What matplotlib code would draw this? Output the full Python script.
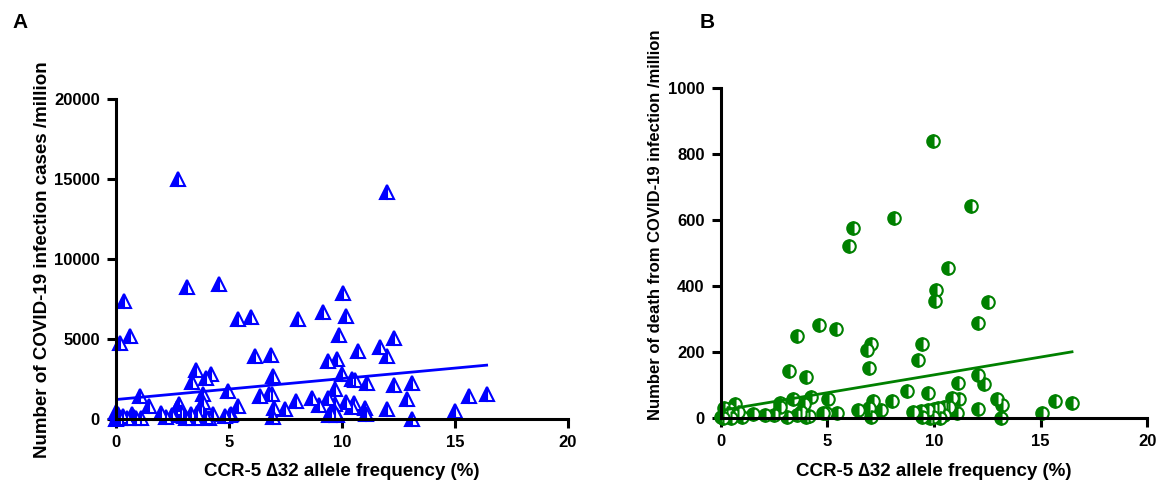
import numpy as np
import matplotlib
matplotlib.use('Agg')
import matplotlib.pyplot as plt

plt.rcParams['font.family'] = ['Liberation Sans', 'DejaVu Sans']
plt.rcParams['font.weight'] = 'bold'

# panel A: CCR-5 delta32 frequency vs infection cases / million
freq_a = [2.76, 11.99, 0.35, 3.16, 4.57, 0.62, 0.16, 5.38, 5.97, 8.07, 9.18, 10.04, 10.19,
          9.86, 10.7, 6.16, 6.87, 9.37, 9.79, 9.99, 10.45, 10.58, 6.96, 3.56, 3.38, 3.98,
          4.2, 3.87, 3.87, 3.78, 4.97, 1.06, 1.46, 6.39, 6.78, 6.9, 9.68, 7.97, 8.66, 8.97,
          9.37, 9.67, 10.16, 10.55, 10.43, 7.0, 7.48, 6.93, 5.38, 5.11, 4.82, 9.42, 9.77,
          12.28, 11.66, 11.99, 11.1, 12.3, 13.08, 12.87, 11.0, 11.07, 11.99, 13.1, 14.99,
          15.6, 16.4,
          0.0, 0.05, 0.1, 0.0, 0.15, 0.2, 0.3, 0.5, 0.7, 0.8, 0.9, 1.1, 2.0, 2.2, 2.5, 2.7,
          2.8, 2.9, 3.0, 3.1, 3.3, 3.5, 3.6, 3.9, 4.1, 4.3, 4.0, 5.05, 9.5, 9.7]
cases = [15030, 14190, 7420, 8300, 8440, 5200, 4790, 6290, 6410, 6290, 6730, 7920, 6480,
         5250, 4300, 3950, 4050, 3620, 3760, 2860, 2530, 2450, 2700, 3110, 2300, 2610,
         2840, 1570, 1070, 670, 1780, 1460, 815, 1440, 1610, 1550, 1900, 1170, 1360, 880,
         1300, 940, 1090, 1040, 770, 730, 650, 150, 815, 310, 210, 250, 250,
         5100, 4530, 3970, 2280, 2130, 2280, 1250, 730, 360, 630, 0, 520,
         1440, 1570,
         0, 100, 300, 450, 150, 50, 200, 100, 350, 150, 50, 100, 375, 150, 250, 700,
         950, 450, 200, 100, 300, 50, 400, 250, 100, 300, 150, 250, 300, 450]

# panel B: CCR-5 delta32 frequency vs deaths / million
freq_b = [9.94, 8.12, 6.22, 6.03, 10.09, 10.05, 4.62, 5.41, 3.59, 7.03, 6.84, 9.42, 9.24,
          6.94, 3.2, 4.0, 8.72, 9.73, 4.23, 3.4, 5.03, 8.02, 7.13, 2.78, 3.92, 0.67, 0.15,
          0.4, 6.44, 6.97, 7.53, 5.44, 4.95, 4.8, 9.03, 9.4, 9.8, 9.42, 9.8, 7.03, 1.5,
          2.08, 2.5, 2.75, 2.8, 3.1, 3.6, 3.75, 4.0, 4.15, 1.0, 0.6, 0.0, 0.3, 0.1, 0.5, 0.8,
          11.73, 10.67, 12.52, 12.05, 12.05, 12.36, 11.14, 10.83, 11.16, 12.94, 13.17,
          15.67, 16.47, 15.06, 13.16, 12.05, 10.45, 10.6, 10.7, 11.06, 10.45, 9.7, 10.0,
          10.2, 9.95, 10.3]
deaths = [841, 606, 576, 523, 389, 356, 282, 272, 250, 226, 207, 226, 176,
          152, 143, 124, 83, 76, 66, 58, 58, 53, 53, 47, 43, 43, 30,
          28, 25, 30, 25, 17, 17, 17, 20, 22, 22, 5, 0, 5, 12,
          11, 10, 20, 35, 5, 10, 20, 5, 8, 5, 10, 3, 15, 0, 0, 20,
          643, 456, 351, 288, 131, 103, 107, 62, 58, 58, 39,
          51, 45, 15, 0, 28, 35, 30, 35, 17, 10, 25, 28,
          30, 5, 0]

# regression lines (intercept, slope)
fit_a = (1235, 131)
fit_b = (23.6, 10.8)

xticks = [0, 5, 10, 15, 20]
yticks_a = [0, 5000, 10000, 15000, 20000]
yticks_b = [0, 200, 400, 600, 800, 1000]
xlab = 'CCR-5 \u220632 allele frequency (%)'


def style(ax):
    for s in ['top', 'right']:
        ax.spines[s].set_visible(False)
    for s in ['left', 'bottom']:
        ax.spines[s].set_linewidth(2.2)
    ax.tick_params(width=2.2, length=6.5, pad=5, labelsize=12)
    for t in ax.get_xticklabels() + ax.get_yticklabels():
        t.set_fontweight('bold')


fig = plt.figure(figsize=(11.63, 4.84), dpi=100)
axA = fig.add_axes([0.0997, 0.1337, 0.3887, 0.661])
axB = fig.add_axes([0.6197, 0.1357, 0.3668, 0.682])

axA.plot(freq_a, cases, ls='none', marker='^', ms=9.5, mew=1.5, color='#0000ff',
         mfc='#0000ff', mfcalt='white', fillstyle='left', clip_on=False)
xa = np.array([min(freq_a), max(freq_a)])
axA.plot(xa, fit_a[0] + fit_a[1] * xa, color='#0000ff', lw=2)
axA.set_xlim(0, 20)
axA.set_ylim(0, 20000)
axA.set_xticks(xticks)
axA.set_yticks(yticks_a)
style(axA)
axA.set_xlabel(xlab, fontsize=13.5, fontweight='bold', labelpad=9)
axA.set_ylabel('Number of COVID-19 infection cases /million', fontsize=13.5, fontweight='bold')
axA.yaxis.set_label_coords(-0.144, 0.5)

axB.plot(freq_b, deaths, ls='none', marker='o', ms=9, mew=1.5, color='#008000',
         mfc='#008000', mfcalt='white', fillstyle='left', clip_on=False)
xb = np.array([min(freq_b), max(freq_b)])
axB.plot(xb, fit_b[0] + fit_b[1] * xb, color='#008000', lw=2)
axB.set_xlim(0, 20)
axB.set_ylim(0, 1000)
axB.set_xticks(xticks)
axB.set_yticks(yticks_b)
style(axB)
axB.set_xlabel(xlab, fontsize=13.5, fontweight='bold', labelpad=10)
axB.set_ylabel('Number of death from COVID-19 infection /million', fontsize=12, fontweight='bold')
axB.yaxis.set_label_coords(-0.135, 0.586)

fig.text(12 / 1163, 1 - 22 / 484, 'A', fontsize=15, fontweight='bold', va='center')
fig.text(700 / 1163, 1 - 22 / 484, 'B', fontsize=15, fontweight='bold', va='center')

fig.savefig('out.png', dpi=100)
